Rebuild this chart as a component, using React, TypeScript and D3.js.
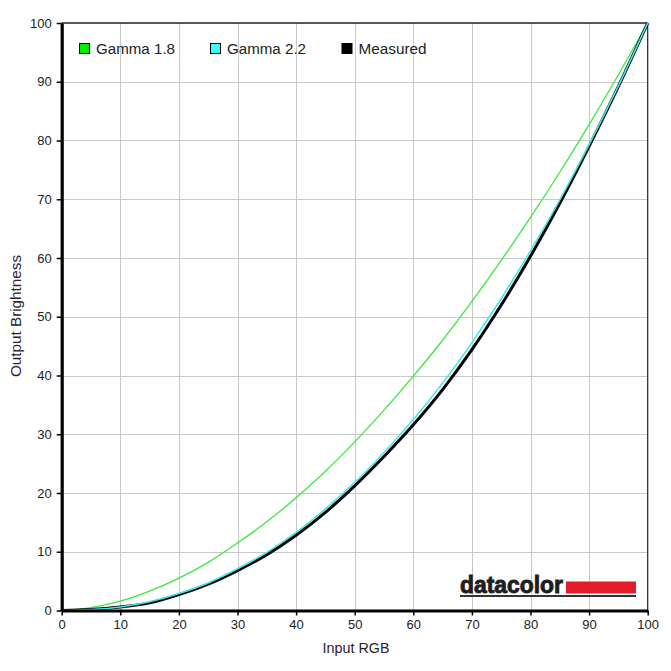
import * as d3 from 'd3'
import { useEffect, useRef } from 'react'

const inputs = [0, 5, 10, 15, 20, 25, 30, 35, 40, 45, 50, 55, 60, 65, 70, 75, 80, 85, 90, 95, 100]
const gamma18 = [0, 0.5, 1.6, 3.3, 5.5, 8.2, 11.5, 15.1, 19.2, 23.7, 28.7, 34.1, 39.9, 46.0, 52.6, 59.6, 66.9, 74.6, 82.7, 91.2, 100]
const gamma22 = [0, 0.15, 0.6, 1.5, 2.9, 4.7, 7.1, 9.9, 13.3, 17.3, 21.8, 26.9, 32.5, 38.7, 45.6, 53.1, 61.2, 69.9, 79.3, 89.3, 100]
const measured = [0, 0.15, 0.6, 1.3, 2.7, 4.5, 6.8, 9.5, 12.8, 16.7, 21.2, 26.2, 31.6, 37.6, 44.4, 52.0, 60.3, 69.3, 79.0, 89.2, 100]
const ticks = [0, 10, 20, 30, 40, 50, 60, 70, 80, 90, 100]
const legendItems = [
  { label: 'Gamma 1.8', color: '#00ee00', width: 79 },
  { label: 'Gamma 2.2', color: '#33ffff', width: 79 },
  { label: 'Measured', color: '#000000', width: 68 },
]

export default function App() {
  const svgRef = useRef<SVGSVGElement>(null)

  useEffect(() => {
    if (!svgRef.current) return
    const svg = d3.select(svgRef.current)
    svg.selectAll('*').remove()

    const width = 671
    const height = 671
    const font = 'Arial, "Liberation Sans", sans-serif'

    svg.attr('width', width).attr('height', height)

    svg.append('rect').attr('width', width).attr('height', height).attr('fill', '#fff')

    const x = d3.scaleLinear().domain([0, 100]).range([61.7, 647.7])
    const y = d3.scaleLinear().domain([0, 100]).range([610.5, 23])

    // Grid
    const grid = svg.append('g')
    grid
      .selectAll('.vx')
      .data(ticks.slice(1, -1))
      .enter()
      .append('line')
      .attr('x1', d => Math.round(x(d)) + 0.5)
      .attr('x2', d => Math.round(x(d)) + 0.5)
      .attr('y1', y(100))
      .attr('y2', y(0))
      .attr('stroke', '#c9c9c9')
      .attr('stroke-width', 1)
    grid
      .selectAll('.hy')
      .data(ticks.slice(1, -1))
      .enter()
      .append('line')
      .attr('x1', x(0))
      .attr('x2', x(100))
      .attr('y1', d => Math.round(y(d)) + 0.5)
      .attr('y2', d => Math.round(y(d)) + 0.5)
      .attr('stroke', '#c9c9c9')
      .attr('stroke-width', 1)

    // Top and right borders
    svg
      .append('line')
      .attr('x1', x(0))
      .attr('x2', x(100))
      .attr('y1', y(100))
      .attr('y2', y(100))
      .attr('stroke', '#222')
      .attr('stroke-width', 1.5)
    svg
      .append('line')
      .attr('x1', x(100))
      .attr('x2', x(100))
      .attr('y1', y(100))
      .attr('y2', y(0))
      .attr('stroke', '#222')
      .attr('stroke-width', 1.2)

    // Curves
    const line = d3
      .line<number>()
      .x((_, i) => x(inputs[i]))
      .y(d => y(d))
      .curve(d3.curveMonotoneX)

    svg
      .append('path')
      .datum(gamma18)
      .attr('d', line)
      .attr('fill', 'none')
      .attr('stroke', '#3ee63e')
      .attr('stroke-width', 1.3)
    svg
      .append('path')
      .datum(measured)
      .attr('d', line)
      .attr('fill', 'none')
      .attr('stroke', '#000')
      .attr('stroke-width', 3)
    svg
      .append('path')
      .datum(gamma22)
      .attr('d', line)
      .attr('fill', 'none')
      .attr('stroke', '#44e8e8')
      .attr('stroke-width', 1.6)

    // Axes
    const xAxis = svg
      .append('g')
      .attr('transform', `translate(0,${y(0)})`)
      .call(d3.axisBottom(x).tickValues(ticks).tickSize(5).tickSizeOuter(0).tickPadding(4))
    const yAxis = svg
      .append('g')
      .attr('transform', `translate(${x(0)},0)`)
      .call(d3.axisLeft(y).tickValues(ticks).tickSize(5).tickSizeOuter(0).tickPadding(5))

    ;[xAxis, yAxis].forEach(a => {
      a.select('.domain').attr('stroke', '#000').attr('stroke-width', 3.2)
      a.selectAll('.tick line').attr('stroke', '#000').attr('stroke-width', 1.5)
      a.selectAll('.tick text')
        .attr('fill', '#222')
        .style('font-family', font)
        .style('font-size', '13px')
    })

    // Axis titles
    svg
      .append('text')
      .attr('x', 356)
      .attr('y', 653)
      .attr('text-anchor', 'middle')
      .attr('textLength', 67)
      .attr('lengthAdjust', 'spacingAndGlyphs')
      .attr('fill', '#2a2233')
      .style('font-family', font)
      .style('font-size', '14px')
      .text('Input RGB')
    svg
      .append('text')
      .attr('transform', 'translate(21,316) rotate(-90)')
      .attr('text-anchor', 'middle')
      .attr('textLength', 122)
      .attr('lengthAdjust', 'spacingAndGlyphs')
      .attr('fill', '#2a2233')
      .style('font-family', font)
      .style('font-size', '14px')
      .text('Output Brightness')

    // Legend
    const legendX = [79, 210, 341.5]
    const lg = svg
      .selectAll('.legend')
      .data(legendItems)
      .enter()
      .append('g')
      .attr('transform', (_, i) => `translate(${legendX[i]},43)`)
    lg.append('rect')
      .attr('x', 0.5)
      .attr('y', 0.5)
      .attr('width', 10)
      .attr('height', 10)
      .attr('fill', d => d.color)
      .attr('stroke', '#000')
      .attr('stroke-width', 1)
    lg.append('text')
      .attr('x', 17)
      .attr('y', 10.5)
      .attr('textLength', d => d.width)
      .attr('lengthAdjust', 'spacingAndGlyphs')
      .attr('fill', '#222')
      .style('font-family', font)
      .style('font-size', '14px')
      .text(d => d.label)

    // Datacolor logo
    const logo = svg.append('g')
    logo
      .append('text')
      .attr('x', 460)
      .attr('y', 592.5)
      .attr('textLength', 103)
      .attr('lengthAdjust', 'spacingAndGlyphs')
      .attr('fill', '#1e1e1e')
      .attr('stroke', '#1e1e1e')
      .attr('stroke-width', 0.9)
      .style('font-family', font)
      .style('font-weight', 'bold')
      .style('font-size', '24px')
      .text('datacolor')
    logo
      .append('rect')
      .attr('x', 566)
      .attr('y', 581.5)
      .attr('width', 70)
      .attr('height', 12)
      .attr('fill', '#e31b2b')
    logo
      .append('rect')
      .attr('x', 460)
      .attr('y', 595)
      .attr('width', 176)
      .attr('height', 2)
      .attr('fill', '#333')
  }, [])

  return (
    <svg
      ref={svgRef}
      style={{ position: 'absolute', left: 0, top: 0, display: 'block' }}
    ></svg>
  )
}
